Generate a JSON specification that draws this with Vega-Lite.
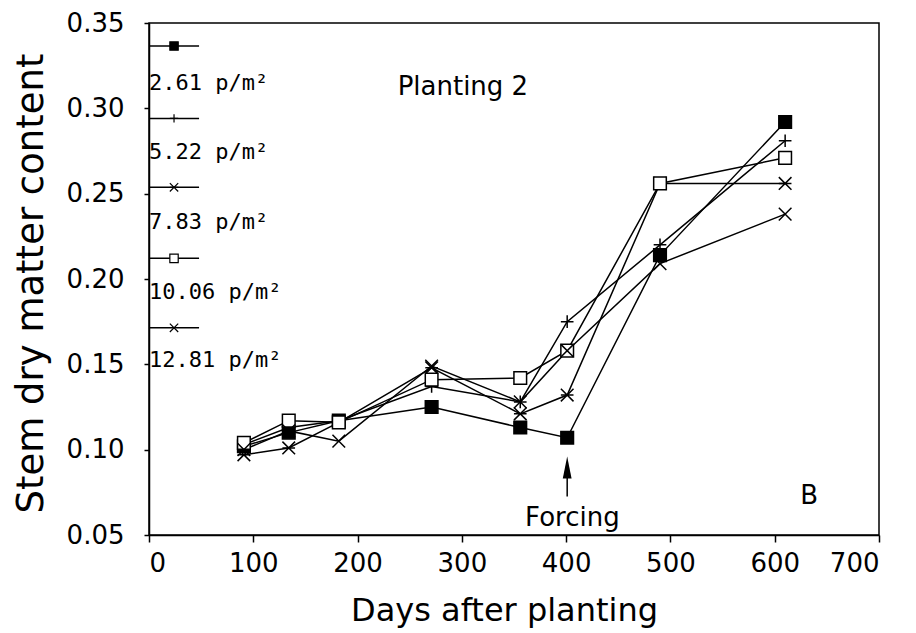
{
  "$schema": "https://vega.github.io/schema/vega-lite/v6.json",
  "width": 730,
  "height": 512,
  "autosize": {"type": "none"},
  "padding": {"left": 149, "top": 23, "right": 37, "bottom": 98},
  "background": "white",
  "config": {
    "view": {"stroke": "black", "strokeWidth": 1.5},
    "font": "DejaVu Sans",
    "axis": {
      "grid": false,
      "domainColor": "black",
      "domainWidth": 1.5,
      "tickColor": "black",
      "tickWidth": 1.5,
      "labelColor": "black",
      "titleColor": "black",
      "labelFont": "DejaVu Sans",
      "titleFont": "DejaVu Sans",
      "titleFontWeight": "normal",
      "labelFontSize": 26
    }
  },
  "datasets": {
    "obs": [
      {"series": "2.61", "day": 91, "value": 0.102},
      {"series": "2.61", "day": 134, "value": 0.110},
      {"series": "2.61", "day": 182, "value": 0.117},
      {"series": "2.61", "day": 271, "value": 0.125},
      {"series": "2.61", "day": 356, "value": 0.113},
      {"series": "2.61", "day": 401, "value": 0.107},
      {"series": "2.61", "day": 490, "value": 0.214},
      {"series": "2.61", "day": 610, "value": 0.292},
      {"series": "5.22", "day": 91, "value": 0.103},
      {"series": "5.22", "day": 134, "value": 0.113},
      {"series": "5.22", "day": 182, "value": 0.117},
      {"series": "5.22", "day": 271, "value": 0.137},
      {"series": "5.22", "day": 356, "value": 0.128},
      {"series": "5.22", "day": 401, "value": 0.175},
      {"series": "5.22", "day": 490, "value": 0.220},
      {"series": "5.22", "day": 610, "value": 0.281},
      {"series": "7.83", "day": 91, "value": 0.097},
      {"series": "7.83", "day": 134, "value": 0.101},
      {"series": "7.83", "day": 182, "value": 0.116},
      {"series": "7.83", "day": 271, "value": 0.148},
      {"series": "7.83", "day": 356, "value": 0.121},
      {"series": "7.83", "day": 401, "value": 0.132},
      {"series": "7.83", "day": 490, "value": 0.256},
      {"series": "7.83", "day": 610, "value": 0.256},
      {"series": "10.06", "day": 91, "value": 0.104},
      {"series": "10.06", "day": 134, "value": 0.117},
      {"series": "10.06", "day": 182, "value": 0.116},
      {"series": "10.06", "day": 271, "value": 0.141},
      {"series": "10.06", "day": 356, "value": 0.142},
      {"series": "10.06", "day": 401, "value": 0.158},
      {"series": "10.06", "day": 490, "value": 0.256},
      {"series": "10.06", "day": 610, "value": 0.271},
      {"series": "12.81", "day": 91, "value": 0.100},
      {"series": "12.81", "day": 134, "value": 0.111},
      {"series": "12.81", "day": 182, "value": 0.105},
      {"series": "12.81", "day": 271, "value": 0.149},
      {"series": "12.81", "day": 356, "value": 0.128},
      {"series": "12.81", "day": 401, "value": 0.158},
      {"series": "12.81", "day": 490, "value": 0.209},
      {"series": "12.81", "day": 610, "value": 0.238}
    ],
    "legend": [
      {"series": "2.61", "value": 0.3365, "label": "2.61 p/m²", "labelValue": 0.3148},
      {"series": "5.22", "value": 0.2941, "label": "5.22 p/m²", "labelValue": 0.2746},
      {"series": "7.83", "value": 0.2537, "label": "7.83 p/m²", "labelValue": 0.2335},
      {"series": "10.06", "value": 0.2121, "label": "10.06 p/m²", "labelValue": 0.1925},
      {"series": "12.81", "value": 0.1714, "label": "12.81 p/m²", "labelValue": 0.1525}
    ],
    "notes": [
      {"day": 301, "value": 0.3125, "text": "Planting 2"},
      {"day": 633, "value": 0.0727, "text": "B"},
      {"day": 406, "value": 0.0598, "text": "Forcing"}
    ]
  },
  "layer": [
    {
      "data": {"name": "obs"},
      "mark": {"type": "line", "color": "black", "strokeWidth": 1.5},
      "encoding": {
        "x": {
          "field": "day", "type": "quantitative",
          "scale": {"domain": [0, 700], "nice": false, "zero": false},
          "axis": {
            "title": "Days after planting",
            "values": [0, 100, 200, 300, 400, 500, 600, 700],
            "tickSize": 7, "labelPadding": 8,
            "titleFontSize": 32, "titleX": 355, "titleY": 85,
            "titleBaseline": "alphabetic"
          }
        },
        "y": {
          "field": "value", "type": "quantitative",
          "scale": {"domain": [0.05, 0.35], "nice": false, "zero": false},
          "axis": {
            "title": "Stem dry matter content",
            "values": [0.05, 0.1, 0.15, 0.2, 0.25, 0.3, 0.35],
            "format": ".2f",
            "tickSize": 5, "labelPadding": 20,
            "titleFontSize": 37, "titleAngle": -90,
            "titleX": -107, "titleY": 260, "titleBaseline": "alphabetic",
            "titleAlign": "center"
          }
        },
        "detail": {"field": "series"}
      }
    },
    {
      "data": {"name": "obs"},
      "mark": {"type": "point", "filled": true, "stroke": "black", "strokeWidth": 1.5, "size": 160, "opacity": 1},
      "encoding": {
        "x": {"field": "day", "type": "quantitative"},
        "y": {"field": "value", "type": "quantitative"},
        "shape": {
          "field": "series", "type": "nominal", "legend": null,
          "scale": {
            "domain": ["2.61", "5.22", "7.83", "10.06", "12.81"],
            "range": ["square", "M-1,0L1,0M0,-1L0,1", "M-1,-1L1,1M-1,1L1,-1M-1,0L1,0", "square", "M-1,-1L1,1M-1,1L1,-1"]
          }
        },
        "fill": {"condition": {"test": "datum.series === '2.61'", "value": "black"}, "value": "white"}
      }
    },
    {
      "data": {"name": "legend"},
      "mark": {"type": "rule", "color": "black", "strokeWidth": 1.5},
      "encoding": {
        "x": {"datum": 0, "type": "quantitative"},
        "x2": {"datum": 48},
        "y": {"field": "value", "type": "quantitative"}
      }
    },
    {
      "data": {"name": "legend"},
      "mark": {"type": "point", "filled": true, "stroke": "black", "strokeWidth": 1.2, "size": 70, "opacity": 1},
      "encoding": {
        "x": {"datum": 24, "type": "quantitative"},
        "y": {"field": "value", "type": "quantitative"},
        "shape": {"field": "series", "type": "nominal", "legend": null},
        "fill": {"condition": {"test": "datum.series === '2.61'", "value": "black"}, "value": "white"}
      }
    },
    {
      "data": {"name": "legend"},
      "mark": {"type": "text", "font": "DejaVu Sans Mono", "fontSize": 22, "align": "left", "baseline": "middle", "color": "black", "dx": 0},
      "encoding": {
        "x": {"datum": 0, "type": "quantitative"},
        "y": {"field": "labelValue", "type": "quantitative"},
        "text": {"field": "label"}
      }
    },
    {
      "data": {"name": "notes"},
      "mark": {"type": "text", "font": "DejaVu Sans", "fontSize": 26, "align": "center", "baseline": "middle", "color": "black"},
      "encoding": {
        "x": {"field": "day", "type": "quantitative"},
        "y": {"field": "value", "type": "quantitative"},
        "text": {"field": "text"}
      }
    },
    {
      "data": {"values": [{}]},
      "mark": {"type": "rule", "color": "black", "strokeWidth": 1.5},
      "encoding": {
        "x": {"datum": 401, "type": "quantitative"},
        "y": {"datum": 0.0725, "type": "quantitative"},
        "y2": {"datum": 0.086}
      }
    },
    {
      "data": {"values": [{}]},
      "mark": {"type": "point", "filled": true, "color": "black", "size": 484, "opacity": 1, "shape": "M0,-1L0.4,1L-0.4,1Z"},
      "encoding": {
        "x": {"datum": 401, "type": "quantitative"},
        "y": {"datum": 0.0895, "type": "quantitative"}
      }
    }
  ]
}
